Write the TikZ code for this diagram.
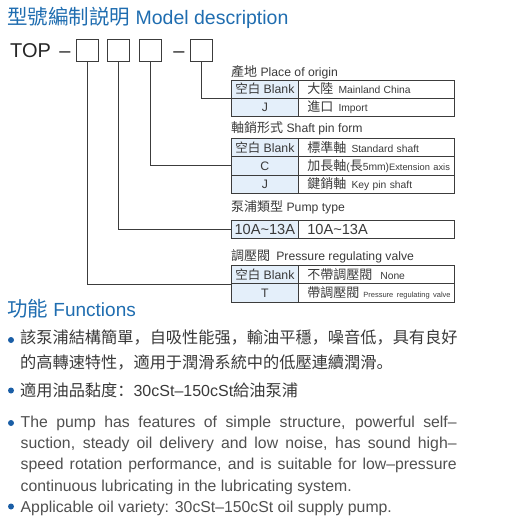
\documentclass[tikz,border=0pt]{standalone}
\usepackage{fontspec}
\setmainfont{Liberation Sans}
\newfontfamily\zhfont{Noto Sans CJK SC}
\newcommand\zh[2][13]{{\zhfont\fontsize{#1}{#1}\selectfont #2}}
\definecolor{titleblue}{HTML}{1F6DB0}
\definecolor{dotblue}{HTML}{1A5EA6}
\definecolor{keyblue}{HTML}{E4EFFA}
\definecolor{bodygray}{HTML}{3A3A3A}
\definecolor{engray}{HTML}{505050}
\definecolor{linegray}{HTML}{3C3C3C}

\begin{document}
\begin{tikzpicture}[x=1pt, y=-1pt,
  heading/.style={anchor=base west, inner sep=0pt, text=titleblue, font=\fontsize{19.5}{22}\selectfont},
  codebox/.style={draw=linegray, line width=0.8pt, minimum width=22pt, minimum height=22.5pt, inner sep=0pt},
  codetxt/.style={anchor=base, inner sep=0pt, text=black!85, font=\fontsize{20}{22}\selectfont},
  tabhead/.style={anchor=base west, inner sep=0pt, text=bodygray, font=\fontsize{12.2}{14}\selectfont},
  keycell/.style={draw=linegray, line width=0.7pt, fill=keyblue, anchor=north west, minimum width=67pt, minimum height=18.3pt, inner sep=0pt, text=bodygray, font=\fontsize{12.3}{14}\selectfont},
  desccell/.style={draw=linegray, line width=0.7pt, anchor=north west, minimum height=18.3pt, text width=156pt, inner sep=0pt, align=left, text=bodygray, font=\fontsize{10.3}{12}\selectfont, execute at begin node={\hspace*{9pt}}},
  conn/.style={draw=linegray, line width=0.8pt},
  zhline/.style={anchor=base west, inner sep=0pt, text=bodygray, font=\zhfont\fontsize{16.2}{20}\selectfont},
  enpar/.style={anchor=base west, inner sep=0pt, text=engray, font=\fontsize{15.8}{21.3}\selectfont}]
  \useasboundingbox (0,0) rectangle (511,523);

  % model code
  \node[heading] (title) at (7,24) {\zh[20.5]{型號編制説明} Model description};
  \node[codetxt, anchor=base west] (top) at (10,57) {TOP};
  \node[codetxt] (dash1) at (65,57) {–};
  \node[codebox] (b1) at (87,50.25) {};
  \node[codebox] (b2) at (118.5,50.25) {};
  \node[codebox] (b3) at (150.5,50.25) {};
  \node[codetxt] (dash2) at (179,57) {–};
  \node[codebox] (b4) at (201.5,50.25) {};

  % place of origin
  \node[tabhead] (hOrig) at (231,76) {\zh{產地} Place of origin};
  \node[keycell] (o1k) at (231,79.5) {\zh[12.5]{空白} Blank};
  \node[desccell] (o1d) at (298,79.5) {\zh{大陸}\enspace Mainland China};
  \node[keycell] (o2k) at (231,97.8) {J};
  \node[desccell] (o2d) at (298,97.8) {\zh{進口}\enspace Import};

  % shaft pin form
  \node[tabhead] (hShaft) at (231,132.7) {\zh{軸銷形式} Shaft pin form};
  \node[keycell] (s1k) at (231,138) {\zh[12.5]{空白} Blank};
  \node[desccell] (s1d) at (298,138) {\zh{標準軸}\enspace Standard shaft};
  \node[keycell] (s2k) at (231,156.3) {C};
  \node[desccell] (s2d) at (298,156.3) {\mbox{\zh{加長軸}(\zh{長}5mm){\fontsize{9.3}{11}\selectfont Extension axis}}};
  \node[keycell] (s3k) at (231,174.6) {J};
  \node[desccell] (s3d) at (298,174.6) {\zh{鍵銷軸}\enspace Key pin shaft};

  % pump type
  \node[tabhead] (hPump) at (231,211.7) {\zh{泵浦類型} Pump type};
  \node[keycell, font=\fontsize{14.6}{17}\selectfont] (p1k) at (231,220) {10A\textasciitilde13A};
  \node[desccell, font=\fontsize{14.6}{17}\selectfont] (p1d) at (298,220) {10A\textasciitilde13A};

  % pressure regulating valve
  \node[tabhead] (hValve) at (231,260.7) {\zh{調壓閥}\enspace Pressure regulating valve};
  \node[keycell] (v1k) at (231,265) {\zh[12.5]{空白} Blank};
  \node[desccell] (v1d) at (298,265) {\zh{不帶調壓閥}\hspace{8pt}None};
  \node[keycell] (v2k) at (231,283.3) {T};
  \node[desccell] (v2d) at (298,283.3) {\mbox{\zh{帶調壓閥}\hspace{4pt}{\fontsize{7.5}{9}\selectfont Pressure regulating valve}}};

  \draw[conn] (b4.south) |- (o1k.south west);
  \draw[conn] (b3.south) |- (s2k.west);
  \draw[conn] (b2.south) |- (p1k.west);
  \draw[conn] (b1.south) |- (v1k.south west);

  % functions
  \node[heading, font=\fontsize{19}{22}\selectfont] (func) at (7,316.7) {\zh[20.5]{功能} Functions};
  \fill[dotblue] (11,340) circle (3pt);
  \node[zhline] (zh1) at (20,343.2) {該泵浦結構簡單，自吸性能强，輸油平穩，噪音低，具有良好};
  \node[zhline] (zh2) at (20,368.2) {的高轉速特性，適用于潤滑系統中的低壓連續潤滑。};
  \fill[dotblue] (11,390.5) circle (3pt);
  \node[zhline] (zh3) at (20,396.2) {適用油品黏度：{\rmfamily\fontsize{16}{20}\selectfont 30cSt–150cSt}給油泵浦};

  \fill[dotblue] (11,423) circle (3pt);
  \node[enpar, text width=436pt, align=justify] (en1) at (20.5,427.3)
    {The pump has features of simple structure, powerful self–\linebreak
     suction, steady oil delivery and low noise, has sound high–\linebreak
     speed rotation performance, and is suitable for low–pressure\linebreak
     continuous lubricating in the lubricating system.};
  \fill[dotblue] (11,506.5) circle (3pt);
  \node[enpar] (en2) at (20.5,512.2) {Applicable oil variety: 30cSt–150cSt oil supply pump.};
\end{tikzpicture}
\end{document}
